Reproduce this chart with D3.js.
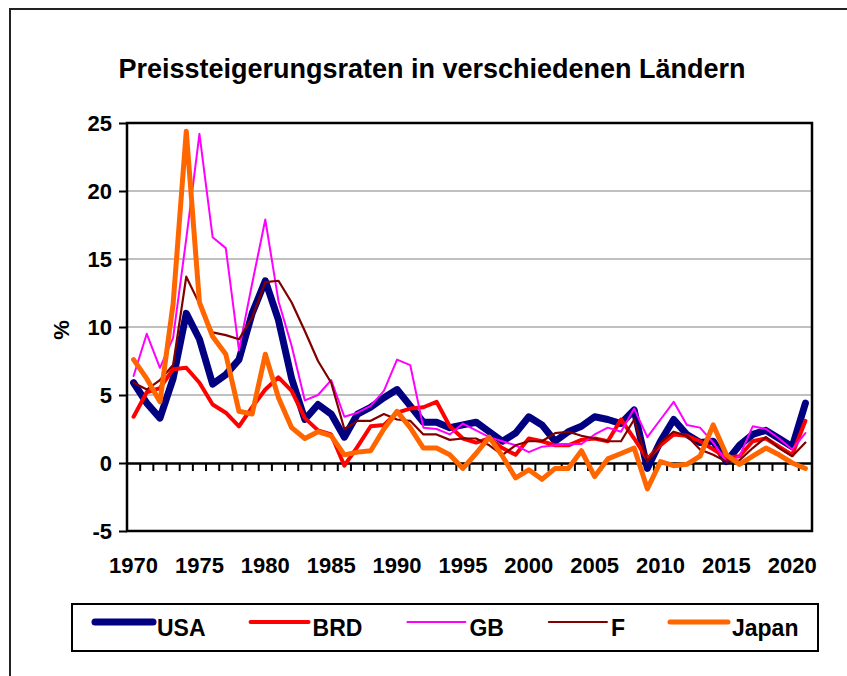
<!DOCTYPE html>
<html>
<head>
<meta charset="utf-8">
<script src="https://cdn.jsdelivr.net/npm/d3@7"></script>
<style>
  body { margin: 0; background: #fff; }
  text { font-family: Arial, "Liberation Sans", sans-serif; font-weight: bold; fill: #000; }
</style>
</head>
<body>
<div id="chart"></div>
<script>
// Data
var years = d3.range(1970, 2022);
var usa = [5.9, 4.4, 3.3, 6.2, 11.0, 9.1, 5.8, 6.5, 7.6, 11.0,
           13.4, 10.5, 6.2, 3.2, 4.3, 3.6, 1.9, 3.6, 4.1, 4.8,
           5.4, 4.2, 3.0, 3.0, 2.6, 2.8, 3.0, 2.3, 1.6, 2.2,
           3.4, 2.8, 1.6, 2.3, 2.7, 3.4, 3.2, 2.9, 3.9, -0.4,
           1.6, 3.2, 2.1, 1.5, 1.6, 0.1, 1.3, 2.1, 2.4, 1.8,
           1.2, 4.4];
var brd = [3.4, 5.2, 5.5, 6.9, 7.0, 5.9, 4.3, 3.7, 2.7, 4.1,
           5.4, 6.3, 5.3, 3.3, 2.4, 2.1, -0.2, 1.2, 2.7, 2.8,
           3.7, 4.0, 4.1, 4.5, 2.7, 1.8, 1.5, 1.8, 1.1, 0.6,
           1.8, 1.6, 1.3, 1.3, 1.7, 1.8, 1.6, 3.2, 1.8, 0.3,
           1.3, 2.1, 2.0, 1.6, 1.0, 0.4, 0.5, 1.6, 1.8, 1.2,
           0.6, 3.1];
var gb = [6.4, 9.5, 7.0, 9.2, 16.5, 24.2, 16.6, 15.8, 8.3, 13.2,
          17.9, 11.9, 8.6, 4.6, 5.0, 6.1, 3.4, 3.7, 4.2, 5.3,
          7.6, 7.2, 2.6, 2.5, 2.1, 2.9, 2.4, 1.9, 1.6, 1.3,
          0.8, 1.2, 1.3, 1.4, 1.4, 2.1, 2.6, 2.3, 4.0, 1.9,
          3.2, 4.5, 2.8, 2.6, 1.5, 0.1, 0.5, 2.7, 2.5, 1.8,
          1.0, 2.2];
var fr = [5.9, 5.4, 6.1, 7.2, 13.7, 11.7, 9.6, 9.4, 9.1, 10.7,
          13.3, 13.4, 11.8, 9.7, 7.5, 5.9, 2.5, 3.1, 3.1, 3.6,
          3.2, 3.1, 2.1, 2.1, 1.7, 1.8, 1.8, 1.3, 0.6, 1.3,
          1.6, 1.6, 2.2, 2.3, 2.0, 1.8, 1.6, 1.6, 3.2, 0.1,
          1.5, 2.3, 2.0, 1.0, 0.6, 0.1, 0.2, 1.1, 1.9, 1.1,
          0.5, 1.5];
var japan = [7.6, 6.2, 4.5, 11.7, 24.4, 11.8, 9.3, 8.0, 3.8, 3.6,
             8.0, 4.8, 2.6, 1.8, 2.3, 2.0, 0.6, 0.8, 0.9, 2.5,
             3.8, 2.6, 1.1, 1.1, 0.6, -0.4, 0.7, 1.9, 0.5, -1.1,
             -0.5, -1.2, -0.4, -0.4, 0.9, -1.0, 0.3, 0.7, 1.1, -1.9,
             0.1, -0.2, -0.1, 0.5, 2.8, 0.6, -0.1, 0.5, 1.1, 0.6,
             0.0, -0.4];
var seriesNames = ["USA", "BRD", "GB", "F", "Japan"];
var yTicks = [-5, 0, 5, 10, 15, 20, 25];
var xLabels = [1970, 1975, 1980, 1985, 1990, 1995, 2000, 2005, 2010, 2015, 2020];

var series = [
  {name: seriesNames[0], values: usa, color: "#000080", width: 7},
  {name: seriesNames[1], values: brd, color: "#ff0000", width: 4},
  {name: seriesNames[2], values: gb, color: "#ff00ff", width: 2},
  {name: seriesNames[3], values: fr, color: "#800000", width: 2.2},
  {name: seriesNames[4], values: japan, color: "#ff6600", width: 5}
];

var svgWidth = 847;
var svgHeight = 676;
var plot = {left: 127, right: 812, top: 123, bottom: 531};

var svg = d3.select("#chart")
  .append("svg")
  .attr("width", svgWidth)
  .attr("height", svgHeight);

// outer chart frame
svg.append("rect")
  .attr("x", 10).attr("y", 9)
  .attr("width", 860).attr("height", 700)
  .attr("fill", "none")
  .attr("stroke", "#222")
  .attr("stroke-width", 2);

svg.append("text")
  .attr("x", 432)
  .attr("y", 78)
  .attr("text-anchor", "middle")
  .style("font-size", "27px")
  .text("Preissteigerungsraten in verschiedenen Ländern");

var x = d3.scaleBand()
  .domain(years)
  .range([plot.left, plot.right])
  .padding(0);

var y = d3.scaleLinear()
  .domain([-5, 25])
  .range([plot.bottom, plot.top]);

// gridlines
svg.append("g")
  .selectAll("line")
  .data(yTicks.filter(d => d > -5 && d < 25 && d !== 0))
  .enter()
  .append("line")
  .attr("x1", plot.left).attr("x2", plot.right)
  .attr("y1", d => y(d)).attr("y2", d => y(d))
  .attr("stroke", "#c0c0c0")
  .attr("stroke-width", 2);

// y axis
var leftAxis = d3.axisLeft(y)
  .tickValues(yTicks)
  .tickFormat(d => String(d))
  .tickSize(8)
  .tickPadding(7);
var yAxisG = svg.append("g")
  .attr("transform", `translate(${plot.left}, 0)`)
  .call(leftAxis);
yAxisG.select(".domain").remove();
yAxisG.selectAll(".tick line").attr("stroke", "#000").attr("stroke-width", 2);
yAxisG.selectAll(".tick text")
  .style("font-size", "22px")
  .attr("dy", "0.36em")
  .attr("fill", "#000");

// plot frame
svg.append("rect")
  .attr("x", plot.left).attr("y", plot.top)
  .attr("width", plot.right - plot.left)
  .attr("height", plot.bottom - plot.top)
  .attr("fill", "none")
  .attr("stroke", "#000")
  .attr("stroke-width", 2.5);

// zero line with category ticks
var bottomAxis = d3.axisBottom(x).tickSize(0).tickFormat("");
var zeroG = svg.append("g")
  .attr("transform", `translate(0, ${y(0)})`)
  .call(bottomAxis);
zeroG.select(".domain").attr("stroke", "#000").attr("stroke-width", 2.5);
zeroG.selectAll(".tick").remove();
zeroG.selectAll(".bound")
  .data(years.slice(1))
  .enter()
  .append("line")
  .attr("x1", d => x(d)).attr("x2", d => x(d))
  .attr("y1", 0).attr("y2", 8)
  .attr("stroke", "#000")
  .attr("stroke-width", 2);

// year labels
svg.append("g")
  .selectAll("text")
  .data(xLabels)
  .enter()
  .append("text")
  .attr("x", d => x(d) + x.bandwidth() / 2)
  .attr("y", 573)
  .attr("text-anchor", "middle")
  .style("font-size", "22px")
  .text(d => d);

// y axis title
svg.append("text")
  .attr("transform", "translate(69, 330) rotate(-90)")
  .attr("text-anchor", "middle")
  .style("font-size", "22px")
  .text("%");

// lines
var line = d3.line()
  .x((d, i) => x(years[i]) + x.bandwidth() / 2)
  .y(d => y(d));

svg.append("g")
  .selectAll("path")
  .data(series)
  .enter()
  .append("path")
  .attr("d", d => line(d.values))
  .attr("fill", "none")
  .attr("stroke", d => d.color)
  .attr("stroke-width", d => d.width)
  .attr("stroke-linejoin", "round")
  .attr("stroke-linecap", "round");

// legend
svg.append("rect")
  .attr("x", 72).attr("y", 604)
  .attr("width", 746).attr("height", 47)
  .attr("fill", "#fff")
  .attr("stroke", "#000")
  .attr("stroke-width", 2);

var legendX = 95;
series.forEach(function(s) {
  svg.append("line")
    .attr("x1", legendX).attr("x2", legendX + 58)
    .attr("y1", 622).attr("y2", 622)
    .attr("stroke", s.color)
    .attr("stroke-width", s.width)
    .attr("stroke-linecap", "round");
  var t = svg.append("text")
    .attr("x", legendX + 62)
    .attr("y", 636)
    .style("font-size", "23px")
    .text(s.name);
  legendX += 62 + t.node().getComputedTextLength() + 45;
});
</script>
</body>
</html>
